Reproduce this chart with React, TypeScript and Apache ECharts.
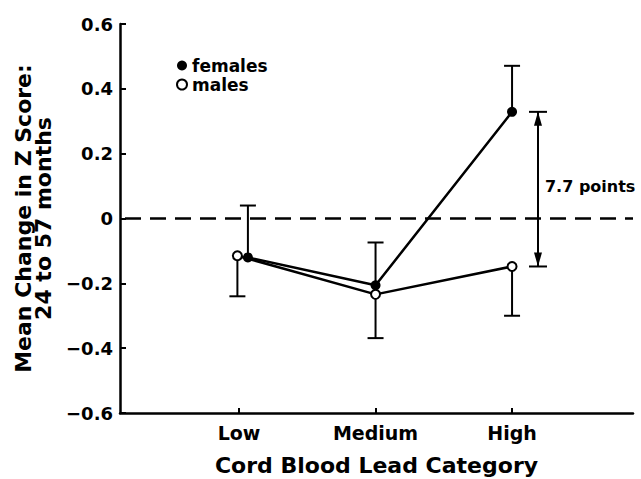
import React, { useEffect, useRef } from "react";
import * as echarts from "echarts";

const categories = ["Low", "Medium", "High"];
const categoryPositions = [1, 2, 3];
const femalesMean = [-0.12, -0.206, 0.329];
const femalesUpper = [0.04, -0.074, 0.471];
const malesMean = [-0.115, -0.234, -0.148];
const malesLower = [-0.24, -0.369, -0.3];
// horizontal dodge of overlapping points (in category units)
const femalesDodge = [0.065, 0, 0];
const malesDodge = [-0.012, 0, 0];
const differenceLabel = "7.7 points";
const yTicks = [-0.6, -0.4, -0.2, 0, 0.2, 0.4, 0.6];
const referenceLevel = [0];

const FONT = "DejaVu Sans";

export default function App() {
  const ref = useRef<HTMLDivElement>(null);
  useEffect(() => {
    document.body.style.margin = "0";
    if (!ref.current) return;
    const chart = echarts.init(ref.current, null, { renderer: "svg" });
    const fData = categoryPositions.map((x, i) => [x + femalesDodge[i], femalesMean[i]]);
    const mData = categoryPositions.map((x, i) => [x + malesDodge[i], malesMean[i]]);
    const errData = [
      ...categoryPositions.map((x, i) => [x + femalesDodge[i], femalesMean[i], femalesUpper[i]]),
      ...categoryPositions.map((x, i) => [x + malesDodge[i], malesMean[i], malesLower[i]]),
    ];
    const last = categoryPositions.length - 1;
    const annotData = [[categoryPositions[last] + 0.19, femalesMean[last], malesMean[last]]];

    const option: any = {
      animation: false,
      backgroundColor: "#fff",
      grid: { left: 120, right: 8, top: 24, bottom: 66, outerBoundsMode: "none", containLabel: false },
      legend: {
        orient: "vertical",
        left: 176,
        top: 57,
        padding: 0,
        itemWidth: 10,
        itemHeight: 10,
        itemGap: 2,
        icon: "circle",
        textStyle: { fontFamily: FONT, fontWeight: "bold", fontSize: 17, color: "#000", lineHeight: 16 },
        data: [
          { name: "females", itemStyle: { color: "#000" } },
          { name: "males", itemStyle: { color: "#fff", borderColor: "#000", borderWidth: 2 } },
        ],
      },
      xAxis: {
        type: "value",
        min: 0.128,
        max: 3.886,
        splitLine: { show: false },
        axisLine: { show: true, onZero: false, lineStyle: { color: "#000", width: 2.5 } },
        axisTick: { show: true, inside: true, length: 5, customValues: categoryPositions, lineStyle: { color: "#000", width: 2 } },
        axisLabel: {
          customValues: categoryPositions,
          formatter: (v: number) => categories[Math.round(v) - 1] ?? "",
          fontFamily: FONT,
          fontWeight: "bold",
          fontSize: 19,
          color: "#000",
          margin: 10,
        },
        name: "Cord Blood Lead Category",
        nameLocation: "middle",
        nameGap: 41,
        nameTextStyle: { fontFamily: FONT, fontWeight: "bold", fontSize: 22, color: "#000" },
      },
      yAxis: {
        type: "value",
        min: -0.6,
        max: 0.6,
        interval: 0.2,
        splitLine: { show: false },
        axisLine: { show: true, onZero: false, lineStyle: { color: "#000", width: 2.5 } },
        axisTick: { show: true, inside: true, length: 6, customValues: yTicks, lineStyle: { color: "#000", width: 2 } },
        axisLabel: {
          customValues: yTicks,
          formatter: (v: number) => {
            const r = Math.round(v * 10) / 10;
            if (r === 0) return "0";
            return (r < 0 ? "\u2212" : "") + Math.abs(r).toFixed(1);
          },
          fontFamily: FONT,
          fontWeight: "bold",
          fontSize: 18,
          color: "#000",
          margin: 7,
        },
        name: "Mean Change in Z Score:\n24 to 57 months",
        nameLocation: "middle",
        nameGap: 67,
        nameTextStyle: { fontFamily: FONT, fontWeight: "bold", fontSize: 22, color: "#000", lineHeight: 20 },
      },
      series: [
        {
          type: "custom",
          name: "zero",
          z: 0,
          silent: true,
          data: referenceLevel,
          renderItem: (params: any, api: any) => {
            const cs = params.coordSys;
            const y = api.coord([1, api.value(0)])[1];
            return {
              type: "line",
              shape: { x1: cs.x + 5, y1: y, x2: cs.x + cs.width, y2: y },
              style: { stroke: "#000", lineWidth: 2.5, lineDash: [16, 9] },
            };
          },
        },
        {
          type: "custom",
          name: "errors",
          z: 1,
          data: errData,
          renderItem: (params: any, api: any) => {
            const p0 = api.coord([api.value(0), api.value(1)]);
            const p1 = api.coord([api.value(0), api.value(2)]);
            const s = { stroke: "#000", lineWidth: 2 };
            return {
              type: "group",
              children: [
                { type: "line", shape: { x1: p0[0], y1: p0[1], x2: p1[0], y2: p1[1] }, style: s },
                { type: "line", shape: { x1: p1[0] - 8, y1: p1[1], x2: p1[0] + 8, y2: p1[1] }, style: s },
              ],
            };
          },
        },
        {
          type: "line",
          name: "males",
          z: 3,
          data: mData,
          symbol: "circle",
          symbolSize: 9,
          itemStyle: { color: "#fff", borderColor: "#000", borderWidth: 2 },
          lineStyle: { color: "#000", width: 2.5 },
        },
        {
          type: "line",
          name: "females",
          z: 4,
          data: fData,
          symbol: "circle",
          symbolSize: 10,
          itemStyle: { color: "#000" },
          lineStyle: { color: "#000", width: 2.5 },
        },
        {
          type: "custom",
          name: "difference",
          z: 5,
          data: annotData,
          renderItem: (params: any, api: any) => {
            const t = api.coord([api.value(0), api.value(1)]);
            const b = api.coord([api.value(0), api.value(2)]);
            const x = t[0];
            const s = { stroke: "#000", lineWidth: 2 };
            const mid = (t[1] + b[1]) / 2;
            return {
              type: "group",
              children: [
                { type: "line", shape: { x1: x, y1: t[1], x2: x, y2: b[1] }, style: s },
                { type: "line", shape: { x1: x - 9, y1: t[1], x2: x + 9, y2: t[1] }, style: s },
                { type: "line", shape: { x1: x - 9, y1: b[1], x2: x + 9, y2: b[1] }, style: s },
                { type: "polygon", shape: { points: [[x, t[1]], [x - 4, t[1] + 14], [x + 4, t[1] + 14]] }, style: { fill: "#000" } },
                { type: "polygon", shape: { points: [[x, b[1]], [x - 4, b[1] - 14], [x + 4, b[1] - 14]] }, style: { fill: "#000" } },
                {
                  type: "text",
                  x: x + 7,
                  y: mid - 3,
                  style: {
                    text: differenceLabel,
                    fontFamily: FONT,
                    fontWeight: "bold",
                    fontSize: 16,
                    fill: "#000",
                    verticalAlign: "middle",
                    align: "left",
                  },
                },
              ],
            };
          },
        },
      ],
    };
    chart.setOption(option);
    return () => chart.dispose();
  }, []);
  return <div ref={ref} style={{ width: 641, height: 479 }} />;
}
